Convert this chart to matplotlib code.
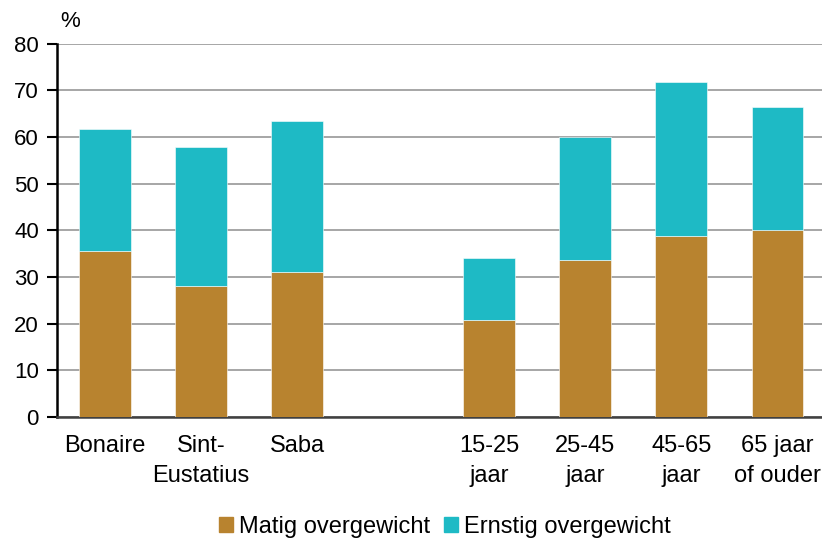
import matplotlib.pyplot as plt
from matplotlib.patches import Patch

# Data (%)
slots = [0, 1, 2, 4, 5, 6, 7]
labels = ["Bonaire", "Sint-\nEustatius", "Saba",
          "15-25\njaar", "25-45\njaar", "45-65\njaar", "65 jaar\nof ouder"]
matig = [35.6, 28.1, 31.1, 20.8, 33.7, 38.8, 40.1]
totaal = [61.8, 57.9, 63.5, 34.1, 60.1, 71.9, 66.4]
ernstig = [t - m for t, m in zip(totaal, matig)]

brown = "#B8832F"
cyan = "#1EBAC5"

plt.rcParams['font.family'] = ['Liberation Sans', 'DejaVu Sans']

fig = plt.figure(figsize=(8.22, 5.4), dpi=100)
ax = fig.add_axes([0.0693, 0.228, 0.935, 0.691])

ax.bar(slots, matig, width=0.54, color=brown, edgecolor="white", linewidth=0.4, zorder=3)
ax.bar(slots, ernstig, width=0.54, bottom=matig, color=cyan, edgecolor="white", linewidth=0.4, zorder=3)

ax.set_xlim(-0.5, 7.5)
ax.set_ylim(0, 80)
ax.set_yticks(range(0, 81, 10))
ax.yaxis.grid(True, color="#A6A6A6", linewidth=1.4, zorder=0)
ax.set_axisbelow(True)

ax.set_xticks(slots)
ax.set_xticklabels(labels, fontsize=17, linespacing=1.45)
ax.tick_params(axis='x', length=0, pad=13)
ax.tick_params(axis='y', labelsize=16, length=7, width=1.5, pad=6)

for s in ["top", "right"]:
    ax.spines[s].set_visible(False)
ax.spines["left"].set_linewidth(1.8)
ax.spines["left"].set_color("black")
ax.spines["bottom"].set_linewidth(1.8)
ax.spines["bottom"].set_color("#404040")

fig.text(0.073, 0.94, "%", fontsize=16, ha="left", va="bottom")

handles = [Patch(color=brown, label="Matig overgewicht"),
           Patch(color=cyan, label="Ernstig overgewicht")]
fig.legend(handles=handles, loc="lower center", bbox_to_anchor=(0.541, -0.035), ncol=2,
           frameon=False, fontsize=17, handlelength=0.6, handleheight=0.6,
           handletextpad=0.25, columnspacing=0.6)

fig.savefig("out.png", dpi=100)
